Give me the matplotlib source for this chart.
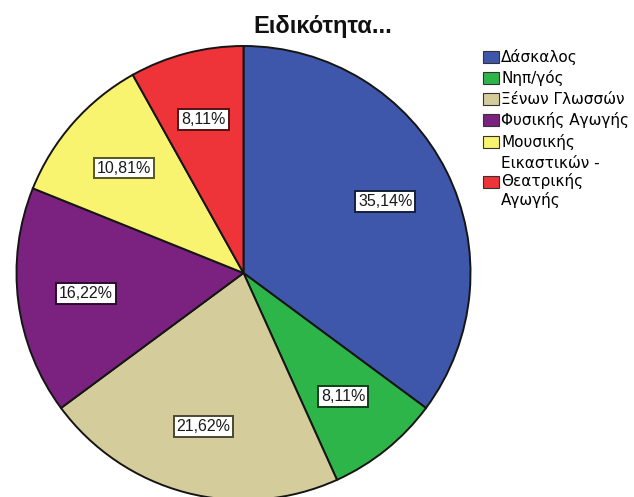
import numpy as np
import matplotlib
matplotlib.use('Agg')
import matplotlib.pyplot as plt
import matplotlib.colors as mcolors

plt.rcParams['font.family'] = ['Liberation Sans', 'DejaVu Sans']

# Specialty shares (%), clockwise from 12 o'clock
categories = ['Δάσκαλος', 'Νηπ/γός', 'Ξένων Γλωσσών', 'Φυσικής Αγωγής',
              'Μουσικής', 'Εικαστικών -\nΘεατρικής\nΑγωγής']
percents = [35.14, 8.11, 21.62, 16.22, 10.81, 8.11]
colors = ['#3f57aa', '#2eb54a', '#d4cd9b', '#7b2180', '#f8f46f', '#ee3339']

fig = plt.figure(figsize=(6.34, 4.97), dpi=100)
fig.patch.set_facecolor('white')

# square axes so that radius 1 is about 227 px
ax = fig.add_axes([16.5 / 634, -3 / 497, 454 / 634, 454 / 497])
wedges, _ = ax.pie(percents, colors=colors, startangle=90, counterclock=False,
                   radius=1.0,
                   wedgeprops=dict(edgecolor='#151515', linewidth=1.4))
ax.set_xlim(-1, 1)
ax.set_ylim(-1, 1)
ax.axis('off')

# value boxes inside each slice
label_r = 0.70
for w, p, c in zip(wedges, percents, colors):
    mid = np.deg2rad((w.theta1 + w.theta2) / 2)
    x, y = label_r * np.cos(mid), label_r * np.sin(mid)
    edge = tuple(v * 0.35 for v in mcolors.to_rgb(c))
    ax.text(x, y, f'{p:.2f}%'.replace('.', ','), ha='center', va='center',
            fontsize=11.5, color='#1a1a1a',
            bbox=dict(boxstyle='square,pad=0.18', fc='white', ec=edge, lw=1.4))

fig.text(323 / 634, 1 - 26 / 497, 'Ειδικότητα...', ha='center', va='center',
         fontsize=17, fontweight='bold', color='#111111')

handles = [plt.Rectangle((0, 0), 1, 1, fc=c, ec='#333333', lw=0.8) for c in colors]
fig.legend(handles, categories, loc='upper left',
           bbox_to_anchor=(483 / 634, 1 - 49 / 497), frameon=False,
           prop=dict(family='DejaVu Sans', size=11), handlelength=1.05,
           handleheight=0.85, handletextpad=0.15, labelspacing=0.36,
           borderpad=0, borderaxespad=0)

fig.savefig('out.png', dpi=100, facecolor='white')
